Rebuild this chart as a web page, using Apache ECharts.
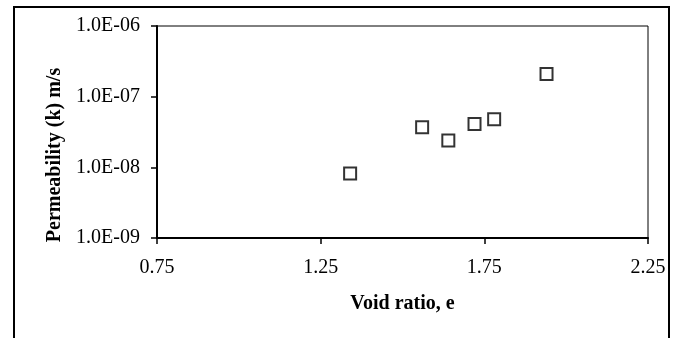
<!DOCTYPE html>
<html>
<head>
<meta charset="utf-8">
<script src="https://cdn.jsdelivr.net/npm/echarts@6/dist/echarts.min.js"></script>
<style>
  html, body { margin: 0; padding: 0; background: #fff; }
  #chart { width: 684px; height: 338px; }
</style>
</head>
<body>
<div id="chart"></div>
<script>
// data
var voidRatio = [1.34, 1.56, 1.64, 1.72, 1.78, 1.94];
var permeability = [8.2e-9, 3.7e-8, 2.4e-8, 4.1e-8, 4.8e-8, 2.1e-7];

var xTicks = [0.75, 1.25, 1.75, 2.25];
var yTicks = [1e-9, 1e-8, 1e-7, 1e-6];
var yTickLabels = ["1.0E-09", "1.0E-08", "1.0E-07", "1.0E-06"];

var font = "Liberation Serif";

var myChart = echarts.init(document.getElementById("chart"));

var option = {
  animation: false,
  backgroundColor: "#fff",
  graphic: [
    {
      // outer frame of the figure
      type: "rect",
      shape: { x: 14, y: 7, width: 655, height: 345 },
      style: { fill: "none", stroke: "#000", lineWidth: 2 },
      silent: true,
    },
  ],
  grid: {
    left: 157,
    right: 36,
    top: 26,
    bottom: 100,
    show: true,
    borderColor: "#000",
    borderWidth: 1,
  },
  xAxis: {
    type: "value",
    min: 0.75,
    max: 2.25,
    name: "Void ratio, e",
    nameLocation: "middle",
    nameGap: 56,
    nameTextStyle: { fontFamily: font, fontSize: 20, fontWeight: "bold", color: "#000" },
    axisLine: { show: true, lineStyle: { color: "#000", width: 2 } },
    axisTick: { show: true, inside: false, length: 6, customValues: xTicks, lineStyle: { color: "#000", width: 1.5 } },
    axisLabel: {
      customValues: xTicks,
      margin: 20,
      fontFamily: font,
      fontSize: 20,
      color: "#000",
      formatter: function (v) {
        return v.toFixed(2);
      },
    },
    splitLine: { show: false },
  },
  yAxis: {
    type: "log",
    logBase: 10,
    min: 1e-9,
    max: 1e-6,
    name: "Permeability (k) m/s",
    nameLocation: "middle",
    nameGap: 82,
    nameRotate: 90,
    nameTextStyle: {
      fontFamily: font,
      fontSize: 20,
      fontWeight: "bold",
      color: "#000",
      padding: [0, 46, 0, 0],
    },
    axisLine: { show: true, lineStyle: { color: "#000", width: 2 } },
    axisTick: { show: true, inside: false, length: 6, lineStyle: { color: "#000", width: 1.5 } },
    axisLabel: {
      margin: 17,
      fontFamily: font,
      fontSize: 20,
      color: "#000",
      formatter: function (v) {
        var exp = Math.round(Math.log10(v));
        var i = yTicks.findIndex(function (t) {
          return Math.round(Math.log10(t)) === exp;
        });
        return i >= 0 ? yTickLabels[i] : "";
      },
    },
    splitLine: { show: false },
    minorTick: { show: false },
  },
  series: [
    {
      type: "scatter",
      symbol: "rect",
      symbolSize: 12,
      itemStyle: { color: "#fff", borderColor: "#000", borderWidth: 2 },
      data: voidRatio.map(function (x, i) {
        return [x, permeability[i]];
      }),
    },
  ],
};

myChart.setOption(option);
</script>
</body>
</html>
